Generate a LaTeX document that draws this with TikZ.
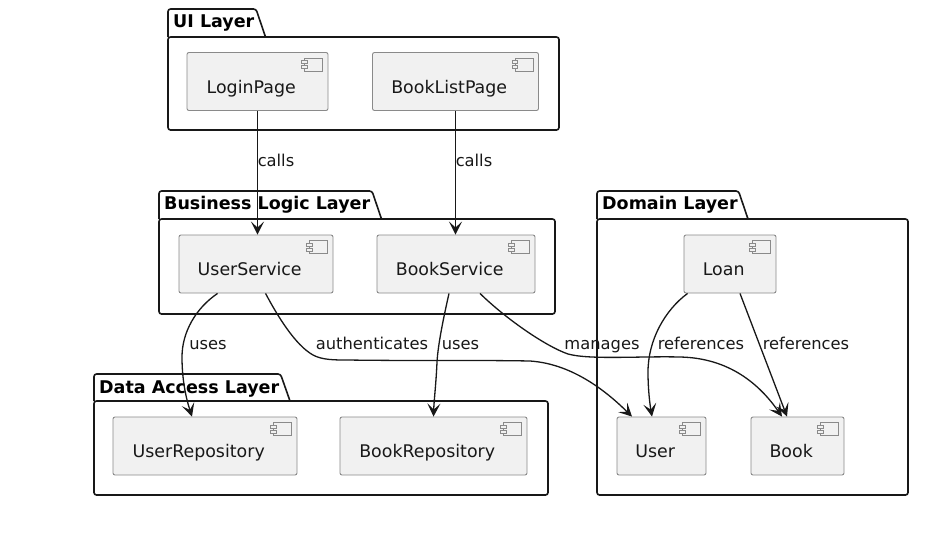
\documentclass[tikz,border=0pt]{standalone}
\usepackage{fontspec}
\setmainfont{DejaVu Sans}
\usetikzlibrary{arrows.meta}
\definecolor{ink}{HTML}{181818}
\definecolor{compfill}{HTML}{F1F1F1}
\definecolor{compline}{HTML}{8A8A8A}
\newcommand{\pkgshape}[6]{% left, top of tab, top of frame, right, bottom, tab top right
  \draw[pkgline] (#1,#3) -- (#1,#2) -- (#6,#2) -- ({#6+9.5},#3);
  \draw[pkgline] (#1,#3) -- (#4,#3) -- (#4,#5) -- (#1,#5) -- cycle;
}
\newcommand{\complabel}[1]{\raisebox{-11.5pt}[0pt][0pt]{\makebox[0pt]{#1\kern 12.6pt}}}
\newcommand{\compicon}[1]{%
  \draw[iconline] ([xshift=-24pt,yshift=-6pt]#1.north east) rectangle ([xshift=-6pt,yshift=-19pt]#1.north east);
  \draw[iconline,fill=compfill] ([xshift=-27pt,yshift=-8.5pt]#1.north east) rectangle ([xshift=-21.5pt,yshift=-11.5pt]#1.north east);
  \draw[iconline,fill=compfill] ([xshift=-27pt,yshift=-13.5pt]#1.north east) rectangle ([xshift=-21.5pt,yshift=-16.5pt]#1.north east);
}
\tikzset{
  pkgline/.style={draw=ink,line width=1.6pt,rounded corners=2.5pt,line join=round},
  iconline/.style={draw=compline,line width=0.8pt},
  comp/.style={draw=compline,fill=compfill,line width=0.9pt,rounded corners=2pt,inner sep=0pt,
    minimum height=58pt,text=ink,font=\fontsize{17.4}{21}\selectfont},
  pkgtitle/.style={anchor=base west,inner sep=0pt,text=black,font=\fontsize{17.5}{21}\selectfont\bfseries},
  rel/.style={draw=ink,line width=1.3pt,-{Stealth[inset=6pt,length=13pt,width=13pt]}},
  rellabel/.style={anchor=base,inner sep=0pt,text=ink,font=\fontsize{16.3}{20}\selectfont},
}
\begin{document}
\begin{tikzpicture}[x=1pt,y=-1pt]
\useasboundingbox (0,0) rectangle (949,544);
\fill[white] (0,0) rectangle (949,544);
% packages
\pkgshape{168}{9}{37}{559}{130}{256}
\pkgshape{159}{191}{219}{555}{314}{372}
\pkgshape{94}{374}{401}{548}{495}{280.5}
\pkgshape{597}{191}{219}{908}{495}{738.5}
\node[pkgtitle] (tui) at (173,27.5) {UI Layer};
\node[pkgtitle] (tbl) at (164,209.5) {Business Logic Layer};
\node[pkgtitle] (tda) at (99,393) {Data Access Layer};
\node[pkgtitle] (tdo) at (602,209.5) {Domain Layer};
% components
\node[comp,minimum width=141pt] (login) at (257.5,81.5) {\complabel{LoginPage}};
\node[comp,minimum width=166pt] (blist) at (455.5,81.5) {\complabel{BookListPage}};
\node[comp,minimum width=154pt] (us) at (256,264) {\complabel{UserService}};
\node[comp,minimum width=158pt] (bs) at (456,264) {\complabel{BookService}};
\node[comp,minimum width=184pt] (ur) at (205,446) {\complabel{UserRepository}};
\node[comp,minimum width=187pt] (br) at (433.5,446) {\complabel{BookRepository}};
\node[comp,minimum width=92pt] (loan) at (730,264) {\complabel{Loan}};
\node[comp,minimum width=89pt] (user) at (661.5,446) {\complabel{User}};
\node[comp,minimum width=93pt] (book) at (797.5,446) {\complabel{Book}};
\foreach \n in {login,blist,us,bs,ur,br,loan,user,book}{\compicon{\n}}
% relations
\draw[rel] (login.south) -- (login.south |- us.north);
\draw[rel] (blist.south) -- (blist.south |- bs.north);
\draw[rel] ([xshift=39pt]us.south west) .. controls (196,308) and (182,332) .. (182,357)
   .. controls (182,380) and (186,398) .. ([xshift=-13pt]ur.north);
\draw[rel] ([xshift=87pt]us.south west) .. controls (277,315) and (295,345) .. (313,355)
   .. controls (322,360) and (335,360) .. (347,360)
   .. controls (420,361) and (480,360) .. (530,361)
   .. controls (575,364) and (610,395) .. ([xshift=-29.5pt]user.north);
\draw[rel] ([xshift=-7pt]bs.south) .. controls (443,320) and (438,345) .. (437,362)
   .. controls (436,385) and (434,400) .. (br.north);
\draw[rel] ([xshift=24pt]bs.south) .. controls (505,318) and (545,346) .. (568,354)
   .. controls (590,360) and (640,356) .. (680,357)
   .. controls (730,358) and (760,385) .. ([xshift=-15.5pt]book.north);
\draw[rel] ([xshift=4pt]loan.south west) .. controls (665,310) and (648,340) .. (648,372)
   .. controls (648,390) and (650,405) .. ([xshift=-9.5pt]user.north);
\draw[rel] ([xshift=10pt]loan.south) -- ([xshift=-10.5pt]book.north);
% labels
\node[rellabel] (l1) at (276,166) {calls};
\node[rellabel] (l2) at (474,166) {calls};
\node[rellabel] (l3) at (208,349.5) {uses};
\node[rellabel] (l4) at (372,349.5) {authenticates};
\node[rellabel] (l5) at (460.5,349.5) {uses};
\node[rellabel] (l6) at (602,349.5) {manages};
\node[rellabel] (l7) at (701,349.5) {references};
\node[rellabel] (l8) at (806,349.5) {references};
\end{tikzpicture}
\end{document}
